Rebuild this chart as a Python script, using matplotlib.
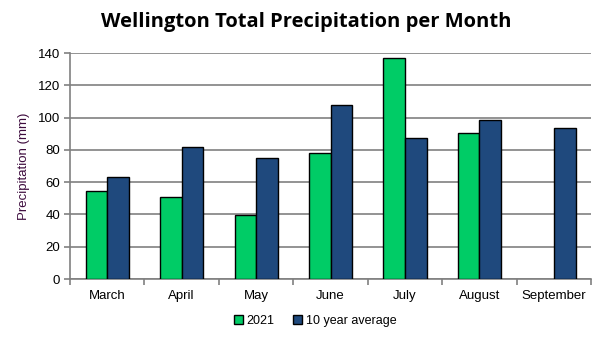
import matplotlib
matplotlib.use("Agg")
import numpy as np
import matplotlib.pyplot as plt

# Data
months = ["March", "April", "May", "June", "July", "August", "September"]
y2021 = [54.5, 51, 39.5, 78, 137, 90.5, np.nan]
avg10 = [63.5, 82, 75, 107.5, 87.5, 98.5, 93.5]

plt.rcParams['font.family'] = ['Liberation Sans Narrow', 'Liberation Sans', 'DejaVu Sans']

fig = plt.figure(figsize=(6.06, 3.42), dpi=100)
ax = fig.add_axes([0.1155, 0.184, 0.86, 0.661])

x = np.arange(len(months))
w = 0.29
ax.bar(x - w / 2, y2021, w, color='#00cc66', edgecolor='black', linewidth=1.0,
       label='2021', zorder=3)
ax.bar(x + w / 2, avg10, w, color='#1f497d', edgecolor='black', linewidth=1.0,
       label='10 year average', zorder=3)

ax.set_xlim(-0.5, len(months) - 0.5)
ax.set_ylim(0, 140)
ax.set_yticks(np.arange(0, 141, 20))
ax.yaxis.grid(True, color='#808080', linewidth=1.2, zorder=0)
ax.set_axisbelow(True)

# category boundary ticks
ax.set_xticks(x)
ax.set_xticklabels(months)
ax.set_xticks(np.arange(-0.5, len(months), 1), minor=True)
ax.tick_params(axis='x', which='major', length=0, pad=8, labelsize=9.5)
ax.tick_params(axis='x', which='minor', length=4, color='#808080', width=1.2)
ax.tick_params(axis='y', length=4, color='#808080', width=1.2, labelsize=9.5,
               pad=3)

for s in ['top', 'right']:
    ax.spines[s].set_visible(False)
for s in ['left', 'bottom']:
    ax.spines[s].set_color('#808080')
    ax.spines[s].set_linewidth(1.2)

ax.set_ylabel('Precipitation (mm)', color='#3d0b3d', fontsize=9.5, labelpad=6)

fig.text(0.505, 0.935, 'Wellington Total Precipitation per Month',
         ha='center', va='center', fontsize=14.5, fontweight='bold',
         family=['Open Sans', 'DejaVu Sans'])

ax.legend(loc='upper center', bbox_to_anchor=(0.47, -0.11), ncol=2,
          frameon=False, fontsize=9, handlelength=0.7, handleheight=0.7,
          handletextpad=0.3, columnspacing=1.5)

fig.savefig('out.png', dpi=100)
